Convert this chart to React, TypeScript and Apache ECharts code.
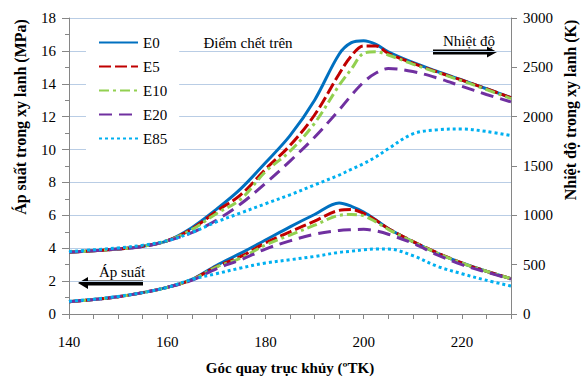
import React, { useEffect, useRef } from "react";
import * as echarts from "echarts";

const crankAngles = [140, 145, 150, 155, 160, 165, 170, 175, 180, 185, 190, 195, 197.5, 200, 202.5, 205, 210, 215, 220, 225, 230];

// Temperature (K) – right axis
const tempE0 = [625, 642, 658, 687, 742, 875, 1060, 1270, 1533, 1808, 2167, 2633, 2750, 2770, 2733, 2658, 2550, 2458, 2372, 2283, 2192];
const tempE5 = [625, 642, 658, 687, 742, 862, 1040, 1210, 1467, 1708, 2017, 2433, 2617, 2717, 2717, 2642, 2542, 2453, 2370, 2283, 2192];
const tempE10 = [625, 642, 658, 687, 742, 855, 1017, 1165, 1442, 1650, 1933, 2317, 2483, 2642, 2658, 2625, 2533, 2447, 2363, 2275, 2183];
const tempE20 = [625, 642, 658, 683, 742, 825, 950, 1117, 1325, 1550, 1792, 2067, 2217, 2350, 2442, 2487, 2458, 2392, 2308, 2225, 2150];
const tempE85 = [633, 650, 670, 697, 742, 825, 933, 1025, 1117, 1208, 1308, 1408, 1467, 1525, 1592, 1675, 1825, 1867, 1875, 1850, 1808];

// Pressure (MPa) – left axis
const presE0 = [0.75, 0.88, 1.05, 1.3, 1.62, 2.1, 2.95, 3.7, 4.5, 5.3, 6.05, 6.75, 6.55, 6.2, 5.72, 5.2, 4.4, 3.7, 3.1, 2.6, 2.15];
const presE5 = [0.75, 0.88, 1.05, 1.3, 1.62, 2.08, 2.88, 3.5, 4.32, 5.0, 5.65, 6.3, 6.35, 6.12, 5.7, 5.2, 4.42, 3.72, 3.1, 2.6, 2.15];
const presE10 = [0.75, 0.88, 1.05, 1.3, 1.62, 2.08, 2.85, 3.4, 4.2, 4.8, 5.4, 6.0, 6.05, 5.97, 5.6, 5.15, 4.4, 3.7, 3.1, 2.6, 2.15];
const presE20 = [0.75, 0.88, 1.05, 1.3, 1.62, 2.05, 2.75, 3.3, 3.95, 4.45, 4.85, 5.08, 5.13, 5.15, 5.05, 4.85, 4.3, 3.6, 3.0, 2.55, 2.12];
const presE85 = [0.77, 0.9, 1.07, 1.3, 1.62, 2.1, 2.45, 2.8, 3.1, 3.3, 3.5, 3.75, 3.82, 3.9, 3.95, 3.95, 3.55, 2.9, 2.45, 2.05, 1.7];

const fuelNames = ["E0", "E5", "E10", "E20", "E85"];
const xTickLabels = [140, 160, 180, 200, 220];
const tdcAngle = 180;

const FONT = "Times New Roman";

const styles: Record<string, any> = {
  E0: { color: "#0070C0", width: 3, type: "solid" },
  E5: { color: "#C00000", width: 3, type: [12, 4] },
  E10: { color: "#92D050", width: 3, type: [10, 4, 3, 4] },
  E20: { color: "#7030A0", width: 3, type: [13, 7] },
  E85: { color: "#00B0F0", width: 3, type: [3, 3] },
};

const txt = (text: string, x: number, y: number, size: number, bold: boolean, rotation = 0) => ({
  type: "text",
  x,
  y,
  rotation,
  style: {
    text,
    fontFamily: FONT,
    fontSize: size,
    fontWeight: bold ? "bold" : "normal",
    fill: "#000",
    align: "center",
    verticalAlign: "middle",
  },
});

export default function App() {
  const ref = useRef<HTMLDivElement>(null);
  useEffect(() => {
    document.body.style.margin = "0";
    if (!ref.current) return;
    const chart = echarts.init(ref.current, undefined, { renderer: "svg" });
    const pair = (vals: number[]) => crankAngles.map((x, i) => [x, vals[i]]);
    const temps = [tempE0, tempE5, tempE10, tempE20, tempE85];
    const press = [presE0, presE5, presE10, presE20, presE85];

    const series: any[] = [];
    fuelNames.forEach((name, i) => {
      const s = styles[name];
      series.push({
        name,
        type: "line",
        yAxisIndex: 0,
        data: pair(press[i]),
        smooth: 0.35,
        symbol: "none",
        clip: i === 0 ? false : true,
        lineStyle: { color: s.color, width: s.width, type: s.type },
        itemStyle: { color: s.color },
        z: 2 + i,
        ...(i === 0
          ? {
              markLine: {
                symbol: "none",
                silent: true,
                label: { show: false },
                lineStyle: { color: "#C85A5A", width: 1.5, type: [9, 4] },
                data: [[{ coord: [tdcAngle, 16] }, { coord: [tdcAngle, -0.3] }]],
              },
            }
          : {}),
      });
    });
    fuelNames.forEach((name, i) => {
      const s = styles[name];
      series.push({
        name,
        type: "line",
        yAxisIndex: 1,
        data: pair(temps[i]),
        smooth: 0.35,
        symbol: "none",
        lineStyle: { color: s.color, width: s.width, type: s.type },
        itemStyle: { color: s.color },
        z: 2 + i,
      });
    });

    const axisColor = "#868686";
    const gridColor = "#B9CDE5";

    chart.setOption({
      animation: false,
      textStyle: { fontFamily: FONT, color: "#000" },
      grid: { left: 69, right: 71, top: 18, bottom: 63 },
      legend: {
        data: fuelNames,
        orient: "vertical",
        left: 86,
        top: 28,
        padding: [7, 12, 7, 12],
        itemWidth: 39,
        itemHeight: 14,
        itemGap: 9,
        backgroundColor: "#fff",
        itemStyle: { opacity: 0 },
        textStyle: { fontFamily: FONT, fontSize: 15, color: "#000" },
      },
      xAxis: {
        type: "value",
        min: 140,
        max: 230,
        interval: 5,
        axisLine: { lineStyle: { color: axisColor } },
        axisTick: { show: true, length: 5, lineStyle: { color: axisColor } },
        splitLine: { show: false },
        axisLabel: {
          margin: 20,
          fontSize: 15,
          fontFamily: FONT,
          color: "#000",
          formatter: (v: number) => (xTickLabels.includes(v) ? String(v) : ""),
        },
      },
      yAxis: [
        {
          type: "value",
          min: 0,
          max: 18,
          interval: 2,
          axisLine: { show: true, lineStyle: { color: axisColor } },
          axisTick: { show: true, length: 7, lineStyle: { color: axisColor } },
          minorTick: { show: true, splitNumber: 2, length: 4, lineStyle: { color: axisColor } },
          splitLine: { show: true, lineStyle: { color: gridColor, width: 1 } },
          axisLabel: { margin: 13, fontSize: 15, fontFamily: FONT, color: "#000" },
        },
        {
          type: "value",
          min: 0,
          max: 3000,
          interval: 500,
          position: "right",
          axisLine: { show: true, lineStyle: { color: axisColor } },
          axisTick: { show: true, length: 6, lineStyle: { color: axisColor } },
          splitLine: { show: false },
          axisLabel: {
            margin: 12,
            fontSize: 15,
            fontFamily: FONT,
            color: "#000",
            formatter: (v: number) => String(v),
          },
        },
      ],
      graphic: [
        txt("Áp suất trong xy lanh (MPa)", 20, 117, 16, true, Math.PI / 2),
        txt("Nhiệt độ trong xy lanh (K)", 570, 110, 16, true, Math.PI / 2),
        txt("Góc quay trục khủy (ºTK)", 290, 368, 15, true),
        txt("Điểm chết trên", 248, 43, 15, false),
        txt("Nhiệt độ", 469, 41, 15, false),
        {
          type: "polygon",
          shape: {
            points: [
              [433, 49.5],
              [487, 49.5],
              [487, 46.5],
              [497, 52],
              [487, 57.5],
              [487, 54.5],
              [433, 54.5],
            ],
          },
          style: { fill: "#000" },
        },
        txt("Áp suất", 122, 272, 15, false),
        {
          type: "polygon",
          shape: {
            points: [
              [143, 280.5],
              [88, 280.5],
              [88, 277],
              [78, 283],
              [88, 289],
              [88, 285.5],
              [143, 285.5],
            ],
          },
          style: { fill: "#000" },
        },
      ],
      series,
    });
    return () => chart.dispose();
  }, []);
  return <div ref={ref} style={{ width: 582, height: 377 }} />;
}
